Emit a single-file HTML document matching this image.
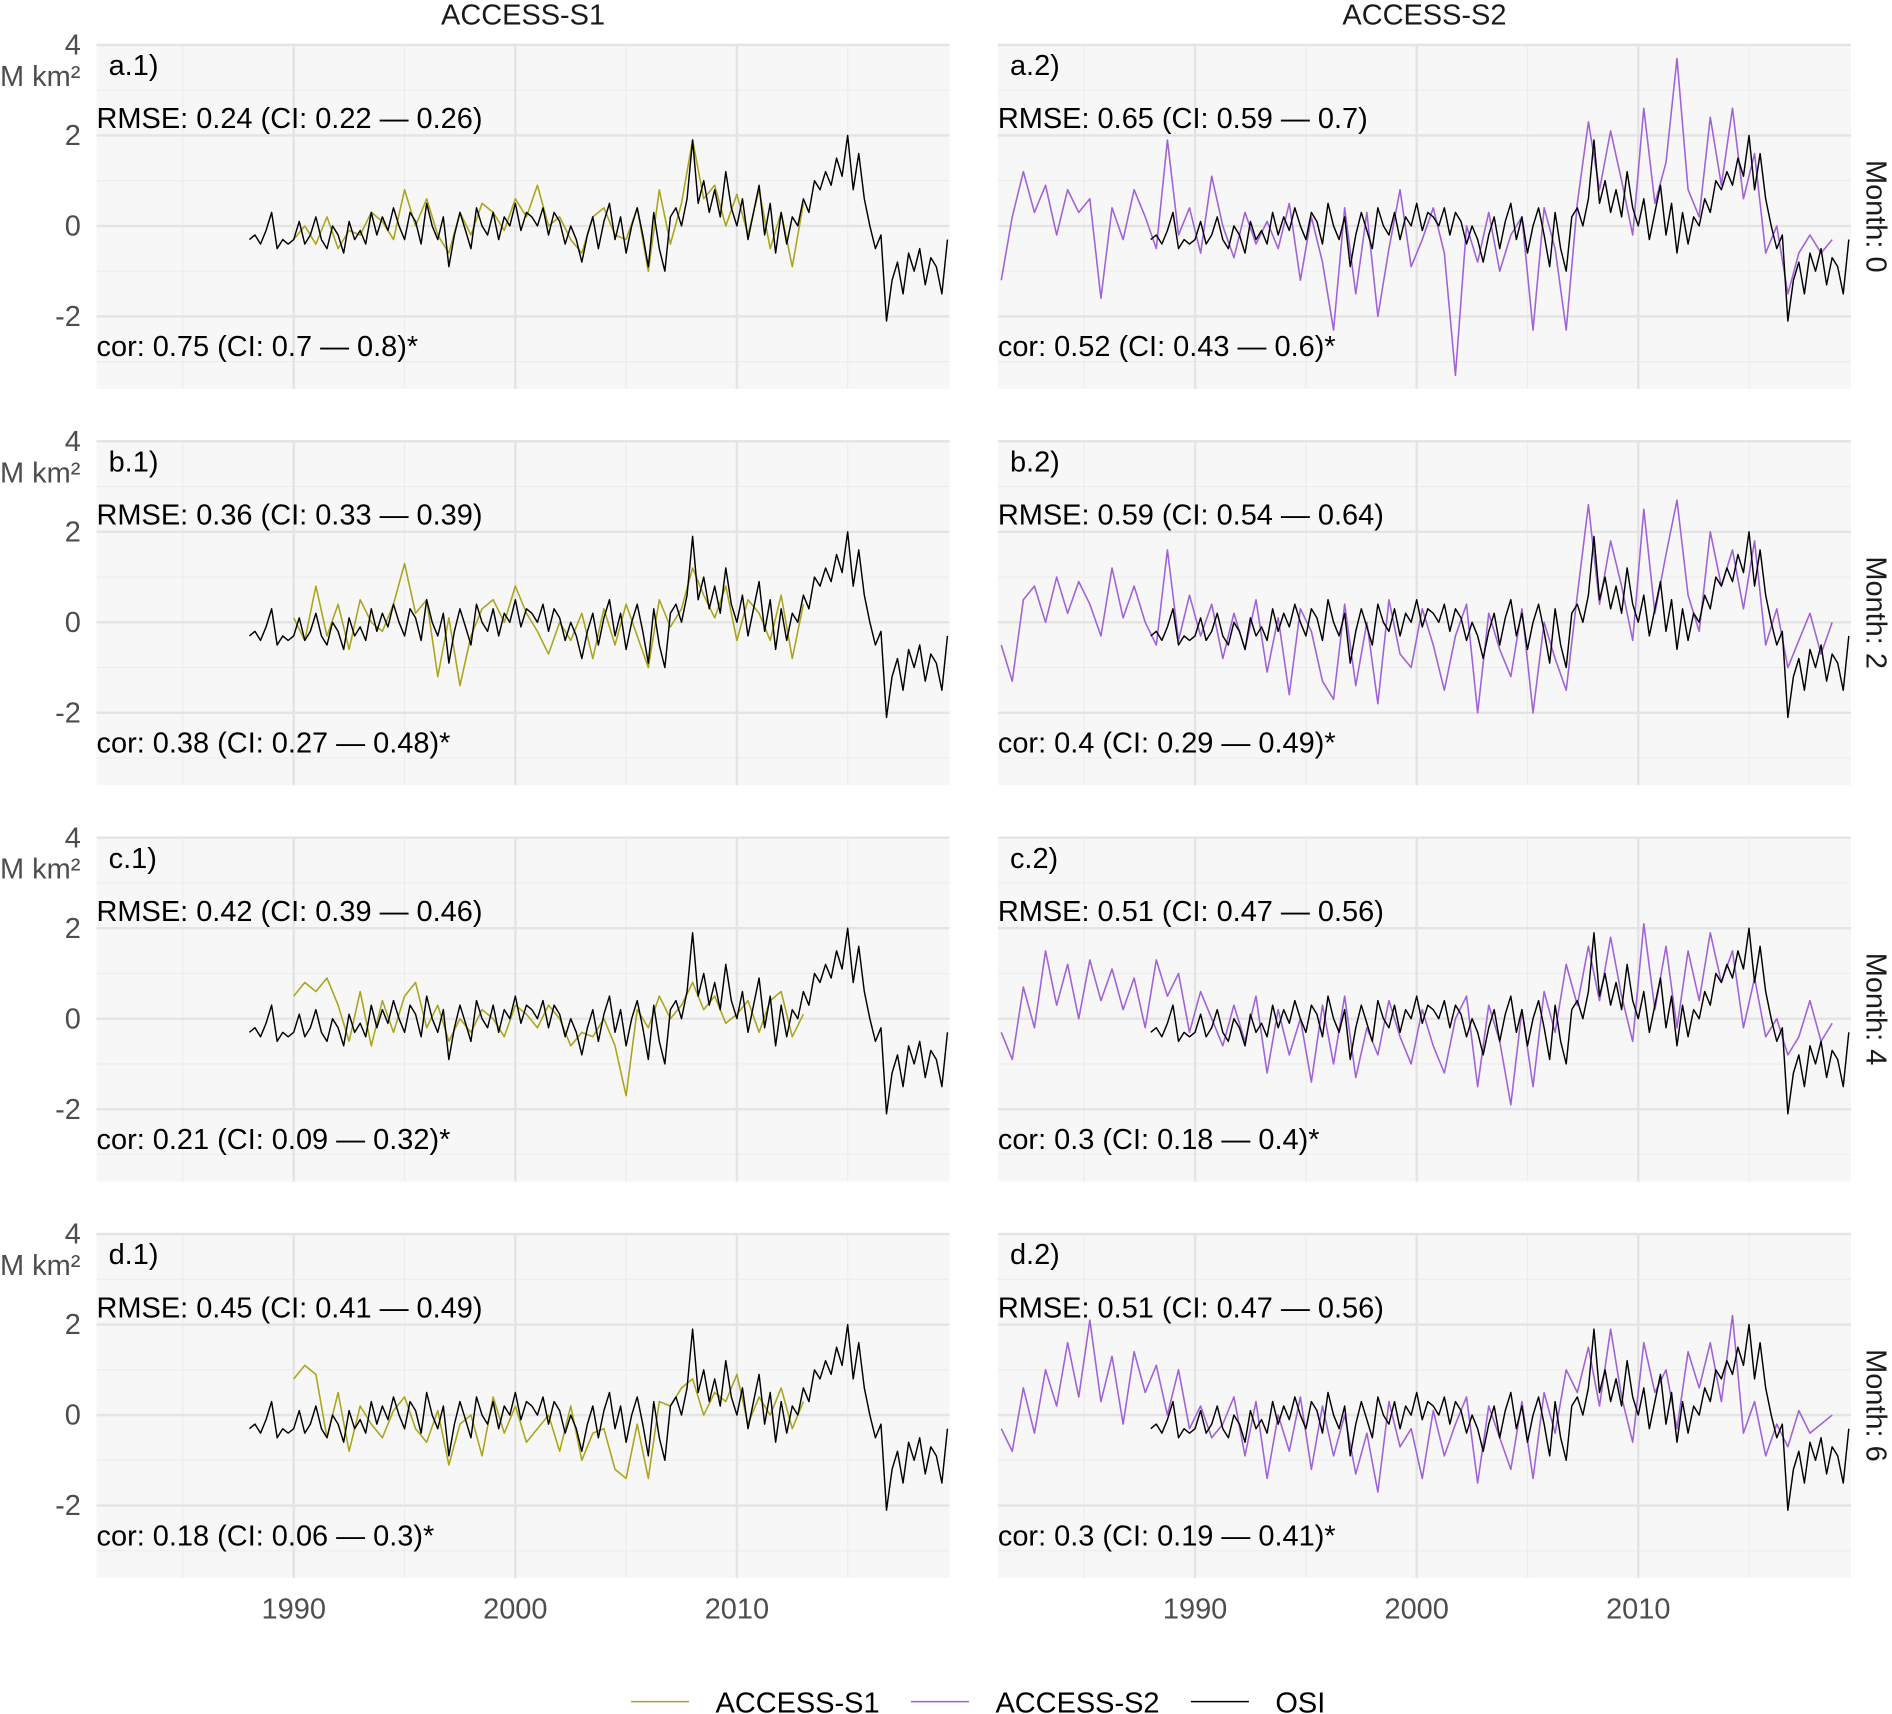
<!DOCTYPE html>
<html><head><meta charset="utf-8"><style>
html,body{margin:0;padding:0;background:#fff;}
svg{display:block;font-family:"Liberation Sans",sans-serif;}
</style></head><body>
<svg id="chart" width="1892" height="1714" viewBox="0 0 1568 1420" xmlns="http://www.w3.org/2000/svg"></svg>
<script>
// ---- data ----
const leadMonths = [0, 2, 4, 6];
const panelLetters = ["a", "b", "c", "d"];
const rmseS1 = ["RMSE: 0.24 (CI: 0.22 — 0.26)", "RMSE: 0.36 (CI: 0.33 — 0.39)", "RMSE: 0.42 (CI: 0.39 — 0.46)", "RMSE: 0.45 (CI: 0.41 — 0.49)"];
const corS1 = ["cor: 0.75 (CI: 0.7 — 0.8)*", "cor: 0.38 (CI: 0.27 — 0.48)*", "cor: 0.21 (CI: 0.09 — 0.32)*", "cor: 0.18 (CI: 0.06 — 0.3)*"];
const rmseS2 = ["RMSE: 0.65 (CI: 0.59 — 0.7)", "RMSE: 0.59 (CI: 0.54 — 0.64)", "RMSE: 0.51 (CI: 0.47 — 0.56)", "RMSE: 0.51 (CI: 0.47 — 0.56)"];
const corS2 = ["cor: 0.52 (CI: 0.43 — 0.6)*", "cor: 0.4 (CI: 0.29 — 0.49)*", "cor: 0.3 (CI: 0.18 — 0.4)*", "cor: 0.3 (CI: 0.19 — 0.41)*"];
const xTicks = [1990, 2000, 2010];
const xMinor = [1985, 1995, 2005, 2015];
const yTicks = [4, 2, 0, -2];
const yMinor = [3, 1, -1, -3];

const osiStart = 1988.0, osiStep = 0.25;
const osi = [-0.3,-0.2,-0.4,-0.1, 0.3,-0.5,-0.3,-0.4, -0.3,0.1,-0.4,-0.2, 0.2,-0.3,-0.5,0.0, -0.2,-0.6,0.1,-0.3, -0.1,-0.4,0.3,-0.2, 0.2,-0.1,0.4,0.0, -0.3,0.3,0.1,-0.4, 0.5,0.0,-0.3,0.2, -0.9,-0.2,0.3,-0.1, -0.5,0.4,0.0,-0.2, 0.3,-0.3,0.2,0.0, 0.5,-0.1,0.3,0.2, 0.0,0.4,-0.2,0.3, 0.1,-0.4,0.0,-0.3, -0.8,-0.2,0.2,-0.5, 0.1,0.5,-0.3,0.2, -0.6,0.0,0.4,-0.2, -0.9,0.3,-0.5,-1.0, 0.2,0.4,0.0,0.6, 1.9,0.5,1.0,0.3, 0.8,0.2,1.2,0.4, 0.0,0.6,-0.3,0.3, 0.9,-0.2,0.5,-0.6, 0.3,-0.4,0.2,0.0, 0.6,0.3,1.0,0.8, 1.2,0.9,1.5,1.1, 2.0,0.8,1.6,0.6, 0.0,-0.5,-0.2,-2.1, -1.2,-0.8,-1.5,-0.6, -1.0,-0.5,-1.3,-0.7, -0.9,-1.5,-0.3];

const s1Start = 1990.0, s1Step = 0.5;
const s1m0 = [-0.3,0.0,-0.4,0.2,-0.5,-0.1,-0.2,0.3,0.1,-0.3,0.8,0.0,0.6,-0.2,-0.6,0.3,-0.2,0.5,0.3,-0.1,0.6,0.2,0.9,0.0,0.2,-0.3,-0.6,0.2,0.4,-0.2,-0.3,0.4,-1.0,0.8,-0.4,0.5,1.9,0.6,0.9,0.0,0.7,-0.2,0.8,-0.5,0.3,-0.9,0.5];
const s1m2 = [0.1,-0.4,0.8,-0.3,0.4,-0.6,0.5,0.0,-0.2,0.4,1.3,0.2,0.5,-1.2,0.1,-1.4,-0.3,0.3,0.5,0.0,0.8,0.2,-0.2,-0.7,0.0,-0.4,0.2,-0.8,0.3,-0.5,0.4,-0.3,-1.0,0.5,-0.1,0.3,1.2,0.6,0.1,0.8,-0.4,0.5,0.2,-0.4,0.6,-0.8,0.4];
const s1m4 = [0.5,0.8,0.6,0.9,0.3,-0.5,0.6,-0.6,0.4,-0.3,0.5,0.8,-0.2,0.3,-0.5,0.0,-0.3,0.2,0.0,-0.4,0.3,0.1,-0.2,0.3,0.0,-0.6,-0.3,-0.4,0.0,-0.6,-1.7,0.2,-0.2,0.5,0.0,0.3,0.8,0.2,0.5,-0.1,0.1,0.4,-0.3,0.4,0.6,-0.4,0.1];
const s1m6 = [0.8,1.1,0.9,-0.5,0.5,-0.8,0.2,-0.2,-0.5,0.1,0.4,-0.3,-0.6,0.1,-1.1,-0.2,0.0,-0.9,0.4,-0.4,0.2,-0.6,-0.3,0.0,-0.8,0.2,-1.0,-0.4,-0.3,-1.2,-1.4,-0.2,-1.4,0.3,0.2,0.6,0.8,0.0,0.5,0.3,0.9,-0.2,0.4,0.0,0.6,-0.3,0.3];

const s2Start = 1981.25, s2Step = 0.5;
const s2m0 = [-1.2,0.2,1.2,0.3,0.9,-0.2,0.8,0.3,0.6,-1.6,0.4,-0.3,0.8,0.2,-0.5,1.9,-0.2,0.4,-0.6,1.1,0.0,-0.7,0.3,-0.4,0.1,-0.5,0.5,-1.2,0.2,-0.8,-2.3,0.4,-1.5,0.3,-2.0,-0.5,0.8,-0.9,-0.3,0.4,-0.6,-3.3,0.0,-0.8,0.3,-1.0,-0.2,0.2,-2.3,0.4,-0.5,-2.3,0.5,2.3,0.8,2.1,1.0,-0.2,2.6,0.5,1.4,3.7,0.8,0.2,2.4,0.9,2.6,0.6,1.6,-0.6,0.0,-1.5,-0.6,-0.2,-0.6,-0.3];
const s2m2 = [-0.5,-1.3,0.5,0.8,0.0,1.0,0.2,0.9,0.4,-0.3,1.2,0.1,0.8,0.0,-0.5,1.6,-0.4,0.6,-0.3,0.4,-0.8,0.2,-0.6,0.5,-1.1,0.1,-1.6,0.3,-0.2,-1.3,-1.7,0.4,-1.4,0.0,-1.8,0.5,-0.7,-1.0,0.3,-0.5,-1.5,-0.3,0.4,-2.0,0.2,-0.6,-1.2,0.3,-2.0,0.0,-0.8,-1.5,0.6,2.6,0.4,1.8,0.8,-0.4,2.5,0.2,1.5,2.7,0.6,-0.2,2.0,0.8,1.6,0.3,1.8,-0.5,0.3,-1.0,-0.4,0.2,-0.7,0.0];
const s2m4 = [-0.3,-0.9,0.7,-0.2,1.5,0.3,1.2,0.0,1.3,0.4,1.1,0.2,0.9,-0.2,1.3,0.5,1.0,-0.3,0.6,0.0,-0.6,0.3,-0.5,0.5,-1.2,0.2,-0.8,0.0,-1.4,0.3,-1.0,0.5,-1.3,-0.2,-0.8,0.4,-0.4,-1.0,0.2,-0.6,-1.2,0.0,0.5,-1.5,0.3,-0.5,-1.9,0.2,-1.5,0.6,-0.3,1.2,0.3,1.6,0.4,1.8,0.5,-0.5,2.1,0.2,1.6,-0.2,1.5,0.4,1.9,0.8,1.5,-0.2,0.9,-0.4,0.0,-0.8,-0.4,0.4,-0.5,-0.1];
const s2m6 = [-0.3,-0.8,0.6,-0.4,1.0,0.2,1.6,0.4,2.1,0.3,1.3,-0.2,1.4,0.5,1.1,0.0,1.0,-0.3,0.2,-0.5,-0.2,0.4,-0.9,0.3,-1.4,0.0,-0.8,0.4,-1.2,0.2,-0.9,0.0,-1.3,-0.4,-1.7,0.3,-0.7,-0.3,-1.4,0.1,-0.9,-0.2,0.4,-1.5,0.2,-0.5,-1.2,0.3,-1.4,0.5,-0.4,1.0,0.5,1.5,0.2,1.9,0.4,-0.6,1.6,0.5,1.0,-0.3,1.4,0.6,1.6,0.3,2.2,-0.4,0.3,-0.9,-0.2,-0.7,0.1,-0.4,-0.2,0.0];

const s1Series = [s1m0, s1m2, s1m4, s1m6];
const s2Series = [s2m0, s2m2, s2m4, s2m6];

// ---- layout ----
const NS = "http://www.w3.org/2000/svg";
const svg = document.getElementById("chart");
const colX = [80, 827], panelW = 707, panelH = 286;
const rowTop0 = 36, rowGap = 328.5;
const xMin = 1981.1, xMax = 2019.6;
const S1C = "#aaa51c", S2C = "#a062d8";
const FS = 24;
function xs(col, yr) { return colX[col] + (yr - xMin) / (xMax - xMin) * panelW; }
function ys(row, v) { return rowTop0 + row * rowGap + 151 - v * 37.5; }
function mk(tag, attrs, parent) {
  const e = document.createElementNS(NS, tag);
  for (const k in attrs) e.setAttribute(k, attrs[k]);
  (parent || svg).appendChild(e);
  return e;
}
function txt(x, y, s, size, fill, anchor, parent) {
  const t = mk("text", {x: x, y: y, "font-size": size, fill: fill, "text-anchor": anchor || "start"}, parent);
  t.textContent = s;
  return t;
}
function pathFor(col, row, arr, start, step) {
  let d = "";
  arr.forEach((v, i) => { d += (i ? "L" : "M") + xs(col, start + i * step).toFixed(1) + "," + ys(row, v).toFixed(1); });
  return d;
}

const colTitles = ["ACCESS-S1", "ACCESS-S2"];
colTitles.forEach((t, c) => {
  const e = txt(colX[c] + panelW / 2, 20, t, FS, "#1a1a1a", "middle");
  
  
});

for (let r = 0; r < 4; r++) {
  const top = rowTop0 + r * rowGap;
  for (let c = 0; c < 2; c++) {
    const g = mk("g", {});
    
    
    mk("rect", {x: colX[c], y: top, width: panelW, height: panelH, fill: "#f7f7f7"}, g);
    yMinor.forEach(v => mk("line", {x1: colX[c], x2: colX[c] + panelW, y1: ys(r, v), y2: ys(r, v), stroke: "#ededed", "stroke-width": 1}, g));
    xMinor.forEach(v => mk("line", {x1: xs(c, v), x2: xs(c, v), y1: top, y2: top + panelH, stroke: "#ededed", "stroke-width": 1}, g));
    yTicks.forEach(v => mk("line", {x1: colX[c], x2: colX[c] + panelW, y1: ys(r, v), y2: ys(r, v), stroke: "#e4e4e4", "stroke-width": 2}, g));
    xTicks.forEach(v => mk("line", {x1: xs(c, v), x2: xs(c, v), y1: top, y2: top + panelH, stroke: "#e4e4e4", "stroke-width": 2}, g));

    const model = c === 0 ? s1Series[r] : s2Series[r];
    const mp = mk("path", {d: pathFor(c, r, model, c === 0 ? s1Start : s2Start, c === 0 ? s1Step : s2Step), fill: "none", stroke: c === 0 ? S1C : S2C, "stroke-width": 1.3, "stroke-linejoin": "round"}, g);
    
    
    const op = mk("path", {d: pathFor(c, r, osi, osiStart, osiStep), fill: "none", stroke: "#000", "stroke-width": 1.2, "stroke-linejoin": "round"}, g);
    
    

    const lx = colX[c];
    const lab = txt(lx + 10, top + 26, panelLetters[r] + "." + (c + 1) + ")", FS, "#000", "start", g);
    
    
    const rm = txt(lx, top + 70, c === 0 ? rmseS1[r] : rmseS2[r], FS, "#000", "start", g);
    
    
    const co = txt(lx, top + 259, c === 0 ? corS1[r] : corS2[r], FS, "#000", "start", g);
    
    
  }
  // y axis
  yTicks.forEach(v => {
    const t = txt(67, ys(r, v) + 8, String(v), FS, "#4d4d4d", "end");
    
    
  });
  const u = txt(0, top + 35, "M km²", FS, "#4d4d4d", "start");
  
  
  // strip
  const cy = top + panelH / 2;
  const st = txt(1547, cy, "Month: " + leadMonths[r], FS, "#1a1a1a", "middle");
  st.setAttribute("transform", "rotate(90 1547 " + cy + ")");
  
  
}

// x tick labels
for (let c = 0; c < 2; c++) {
  xTicks.forEach(v => {
    const t = txt(xs(c, v), 1341, String(v), FS, "#4d4d4d", "middle");
    
    
  });
}

// legend
const legendNames = ["ACCESS-S1", "ACCESS-S2", "OSI"];
const legendColors = [S1C, S2C, "#000"];
const legendX = [523, 755, 987];
legendNames.forEach((n, i) => {
  const g = mk("g", {});
  
  
  mk("line", {x1: legendX[i], x2: legendX[i] + 48, y1: 1410, y2: 1410, stroke: legendColors[i], "stroke-width": 1.3}, g);
  txt(legendX[i] + 70, 1419, n, FS, "#000", "start", g);
});
</script>
</body></html>
